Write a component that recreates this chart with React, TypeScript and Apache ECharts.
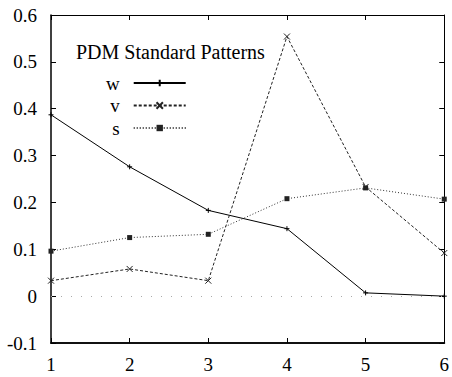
import React, { useEffect, useRef } from "react";
import * as echarts from "echarts";

const xValues = [1, 2, 3, 4, 5, 6];
const wValues = [0.387, 0.276, 0.183, 0.144, 0.007, 0.0];
const vValues = [0.033, 0.058, 0.033, 0.554, 0.233, 0.092];
const sValues = [0.096, 0.125, 0.132, 0.208, 0.231, 0.207];
const seriesNames = ["w", "v", "s"];
const titleText = "PDM Standard Patterns";

const FONT = "'Liberation Serif', 'Times New Roman', serif";

const plusSymbol = "path://M0,5L10,5M5,0L5,10";
const crossSymbol = "path://M0,0L10,10M10,0L0,10";

function pairs(vals: number[]) {
  return xValues.map((x, i) => [x, vals[i]]);
}

export default function App() {
  const ref = useRef<HTMLDivElement>(null);
  useEffect(() => {
    if (!ref.current) return;
    const chart = echarts.init(ref.current, null, { renderer: "svg" });
    const tickLabel = { fontFamily: FONT, fontSize: 19, color: "#000" };
    chart.setOption({
      animation: false,
      backgroundColor: "#fff",
      title: {
        text: titleText,
        left: 71,
        top: 37,
        textStyle: { fontFamily: FONT, fontSize: 20, fontWeight: "normal", color: "#000" },
      },
      legend: {
        orient: "vertical",
        left: 101,
        top: 68,
        align: "right",
        itemWidth: 52,
        itemHeight: 8,
        itemGap: 2.5,
        data: seriesNames,
        textStyle: {
          fontFamily: FONT,
          fontSize: 19,
          lineHeight: 20,
          color: "#000",
          padding: [0, 9, 0, 0],
        },
      },
      grid: { left: 51, right: 6, top: 15, bottom: 34 },
      xAxis: [
        {
          type: "value",
          min: 1,
          max: 6,
          interval: 1,
          position: "bottom",
          axisLine: { show: true, onZero: false, lineStyle: { color: "#111", width: 2 } },
          axisTick: { show: true, inside: true, length: 5, lineStyle: { color: "#000" } },
          axisLabel: { ...tickLabel, margin: 12 },
          splitLine: { show: false },
        },
        {
          type: "value",
          min: 1,
          max: 6,
          interval: 1,
          position: "top",
          axisLine: { show: true, onZero: false, lineStyle: { color: "#000", width: 1 } },
          axisTick: { show: true, inside: true, length: 5, lineStyle: { color: "#000" } },
          axisLabel: { show: false },
          splitLine: { show: false },
        },
      ],
      yAxis: [
        {
          type: "value",
          min: -0.1,
          max: 0.6,
          interval: 0.1,
          position: "left",
          axisLine: { show: true, onZero: false, lineStyle: { color: "#000", width: 1.5 } },
          axisTick: { show: true, inside: true, length: 5, lineStyle: { color: "#000" } },
          axisLabel: {
            ...tickLabel,
            margin: 14,
            formatter: (v: number) => (Math.abs(v) < 1e-9 ? "0" : String(+v.toFixed(1))),
          },
          splitLine: { show: false },
        },
        {
          type: "value",
          min: -0.1,
          max: 0.6,
          interval: 0.1,
          position: "right",
          axisLine: { show: true, onZero: false, lineStyle: { color: "#000", width: 1 } },
          axisTick: { show: true, inside: true, length: 5, lineStyle: { color: "#000" } },
          axisLabel: { show: false },
          splitLine: { show: false },
        },
      ],
      series: [
        {
          name: "w",
          type: "line",
          data: pairs(wValues),
          symbol: plusSymbol,
          symbolSize: 5,
          lineStyle: { color: "#000", width: 1, type: "solid" },
          itemStyle: { color: "#000", borderColor: "#000", borderWidth: 1 },
          markLine: {
            silent: true,
            symbol: ["none", "none"],
            label: { show: false },
            lineStyle: { color: "#aaa", width: 1, type: [1, 9] },
            data: [{ yAxis: 0 }],
          },
        },
        {
          name: "v",
          type: "line",
          data: pairs(vValues),
          symbol: crossSymbol,
          symbolSize: 6,
          lineStyle: { color: "#222", width: 1, type: [3, 2] },
          itemStyle: { color: "#222", borderColor: "#222", borderWidth: 1 },
        },
        {
          name: "s",
          type: "line",
          data: pairs(sValues),
          symbol: "rect",
          symbolSize: 5,
          lineStyle: { color: "#333", width: 1, type: [1, 2] },
          itemStyle: { color: "#222" },
        },
      ],
    });
    return () => chart.dispose();
  }, []);
  return (
    <div
      ref={ref}
      style={{ position: "fixed", left: 0, top: 0, width: 452, height: 377 }}
    />
  );
}
